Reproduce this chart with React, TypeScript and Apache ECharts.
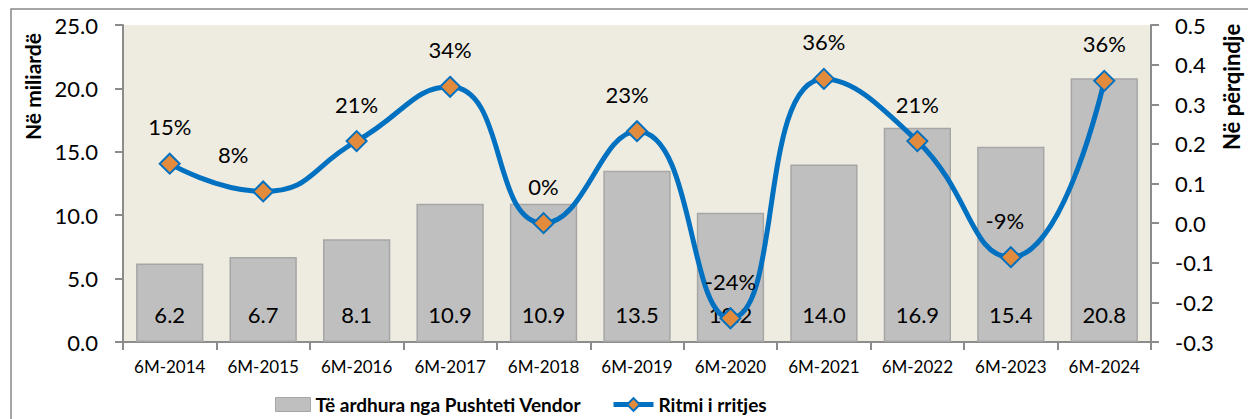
import React, { useEffect, useRef } from "react";
import * as echarts from "echarts";

const categories = ["6M-2014", "6M-2015", "6M-2016", "6M-2017", "6M-2018", "6M-2019", "6M-2020", "6M-2021", "6M-2022", "6M-2023", "6M-2024"];
const revenue = [6.2, 6.7, 8.1, 10.9, 10.9, 13.5, 10.2, 14.0, 16.9, 15.4, 20.8];
const growth = [0.15, 0.08, 0.207, 0.344, 0.0, 0.232, -0.24, 0.364, 0.207, -0.086, 0.359];
const leftTicks = ["0.0", "5.0", "10.0", "15.0", "20.0", "25.0"];
const rightTicks = ["-0.3", "-0.2", "-0.1", "0.0", "0.1", "0.2", "0.3", "0.4", "0.5"];

const FONT = "Lato, 'Open Sans', sans-serif";
const BAR_NAME = "Të ardhura nga Pushteti Vendor";
const LINE_NAME = "Ritmi i rritjes";

export default function App() {
  const ref = useRef<HTMLDivElement>(null);
  useEffect(() => {
    document.body.style.margin = "0";
    const chart = echarts.init(ref.current!, null, { renderer: "svg" });
    const labelOffsets: Record<number, number[]> = { 1: [-30, 0], 5: [-10, 0], 9: [-6, 0] };
    const legendText = { fontFamily: FONT, fontSize: 19, fontWeight: "bold", color: "#000" };
    chart.setOption({
      animation: false,
      textStyle: { fontFamily: FONT },
      grid: { left: 123, right: 97, top: 25, bottom: 77, show: true, backgroundColor: "#EEEBE0", borderWidth: 0 },
      legend: [
        {
          left: 270,
          top: 390,
          itemWidth: 35,
          itemHeight: 14,
          textStyle: legendText,
          data: [{ name: BAR_NAME, icon: "rect", itemStyle: { color: "#BFBFBF", borderColor: "#A6A6A6", borderWidth: 1 } }],
        },
        {
          left: 606,
          top: 390,
          itemWidth: 40,
          itemHeight: 16,
          itemGap: 2,
          textStyle: legendText,
          data: [{ name: LINE_NAME, lineStyle: { width: 5, color: "#0070C0" } }],
        },
      ],
      xAxis: {
        type: "category",
        data: categories,
        axisLine: { lineStyle: { color: "#8C8C8C", width: 2 } },
        axisTick: { show: true, length: 8, lineStyle: { color: "#8C8C8C", width: 2 } },
        axisLabel: { fontFamily: FONT, fontSize: 17, color: "#000", margin: 16, interval: 0 },
      },
      yAxis: [
        {
          type: "value",
          min: 0,
          max: 25,
          interval: 5,
          axisLine: { show: true, lineStyle: { color: "#8C8C8C", width: 2 } },
          axisTick: { show: true, length: 8, lineStyle: { color: "#8C8C8C", width: 2 } },
          splitLine: { show: false },
          axisLabel: { fontFamily: FONT, fontSize: 22, color: "#000", margin: 25, formatter: (v: number) => leftTicks[Math.round(v / 5)] },
        },
        {
          type: "value",
          min: -0.3,
          max: 0.5,
          interval: 0.1,
          position: "right",
          axisLine: { show: true, lineStyle: { color: "#8C8C8C", width: 2 } },
          axisTick: { show: true, length: 8, lineStyle: { color: "#8C8C8C", width: 2 } },
          splitLine: { show: false },
          axisLabel: { fontFamily: FONT, fontSize: 22, color: "#000", margin: 24, formatter: (v: number) => rightTicks[Math.round((v + 0.3) * 10)] },
        },
      ],
      series: [
        {
          name: BAR_NAME,
          type: "bar",
          data: revenue,
          barCategoryGap: "28%",
          itemStyle: { color: "#BFBFBF", borderColor: "#A6A6A6", borderWidth: 1.5 },
          label: { show: true, position: "insideBottom", distance: 17, fontFamily: FONT, fontSize: 22, color: "#000", formatter: (p: any) => p.value.toFixed(1) },
          z: 2,
        },
        {
          name: LINE_NAME,
          type: "line",
          yAxisIndex: 1,
          data: growth.map((v, i) => (labelOffsets[i] ? { value: v, label: { offset: labelOffsets[i] } } : v)),
          smooth: 0.5,
          lineStyle: { color: "#0070C0", width: 5 },
          symbol: "diamond",
          symbolSize: 20,
          itemStyle: { color: "#E38B3C", borderColor: "#0070C0", borderWidth: 2 },
          label: { show: true, position: "top", distance: 15, fontFamily: FONT, fontSize: 22, color: "#000", formatter: (p: any) => Math.round(p.value * 100) + "%" },
          z: 5,
        },
      ],
      graphic: [
        { type: "rect", shape: { x: 11, y: 9, width: 1400, height: 500 }, style: { fill: "none", stroke: "#888888", lineWidth: 1.5 }, z: 0, silent: true },
        { type: "text", x: 22, y: 140, rotation: Math.PI / 2, style: { text: "Në miliardë", font: `bold 21px ${FONT}`, fill: "#000", textAlign: "left", textVerticalAlign: "top" } },
        { type: "text", x: 1220, y: 150, rotation: Math.PI / 2, style: { text: "Në përqindje", font: `bold 22px ${FONT}`, fill: "#000", textAlign: "left", textVerticalAlign: "top" } },
      ],
    });
    return () => chart.dispose();
  }, []);
  return <div ref={ref} style={{ width: 1248, height: 419 }} />;
}
